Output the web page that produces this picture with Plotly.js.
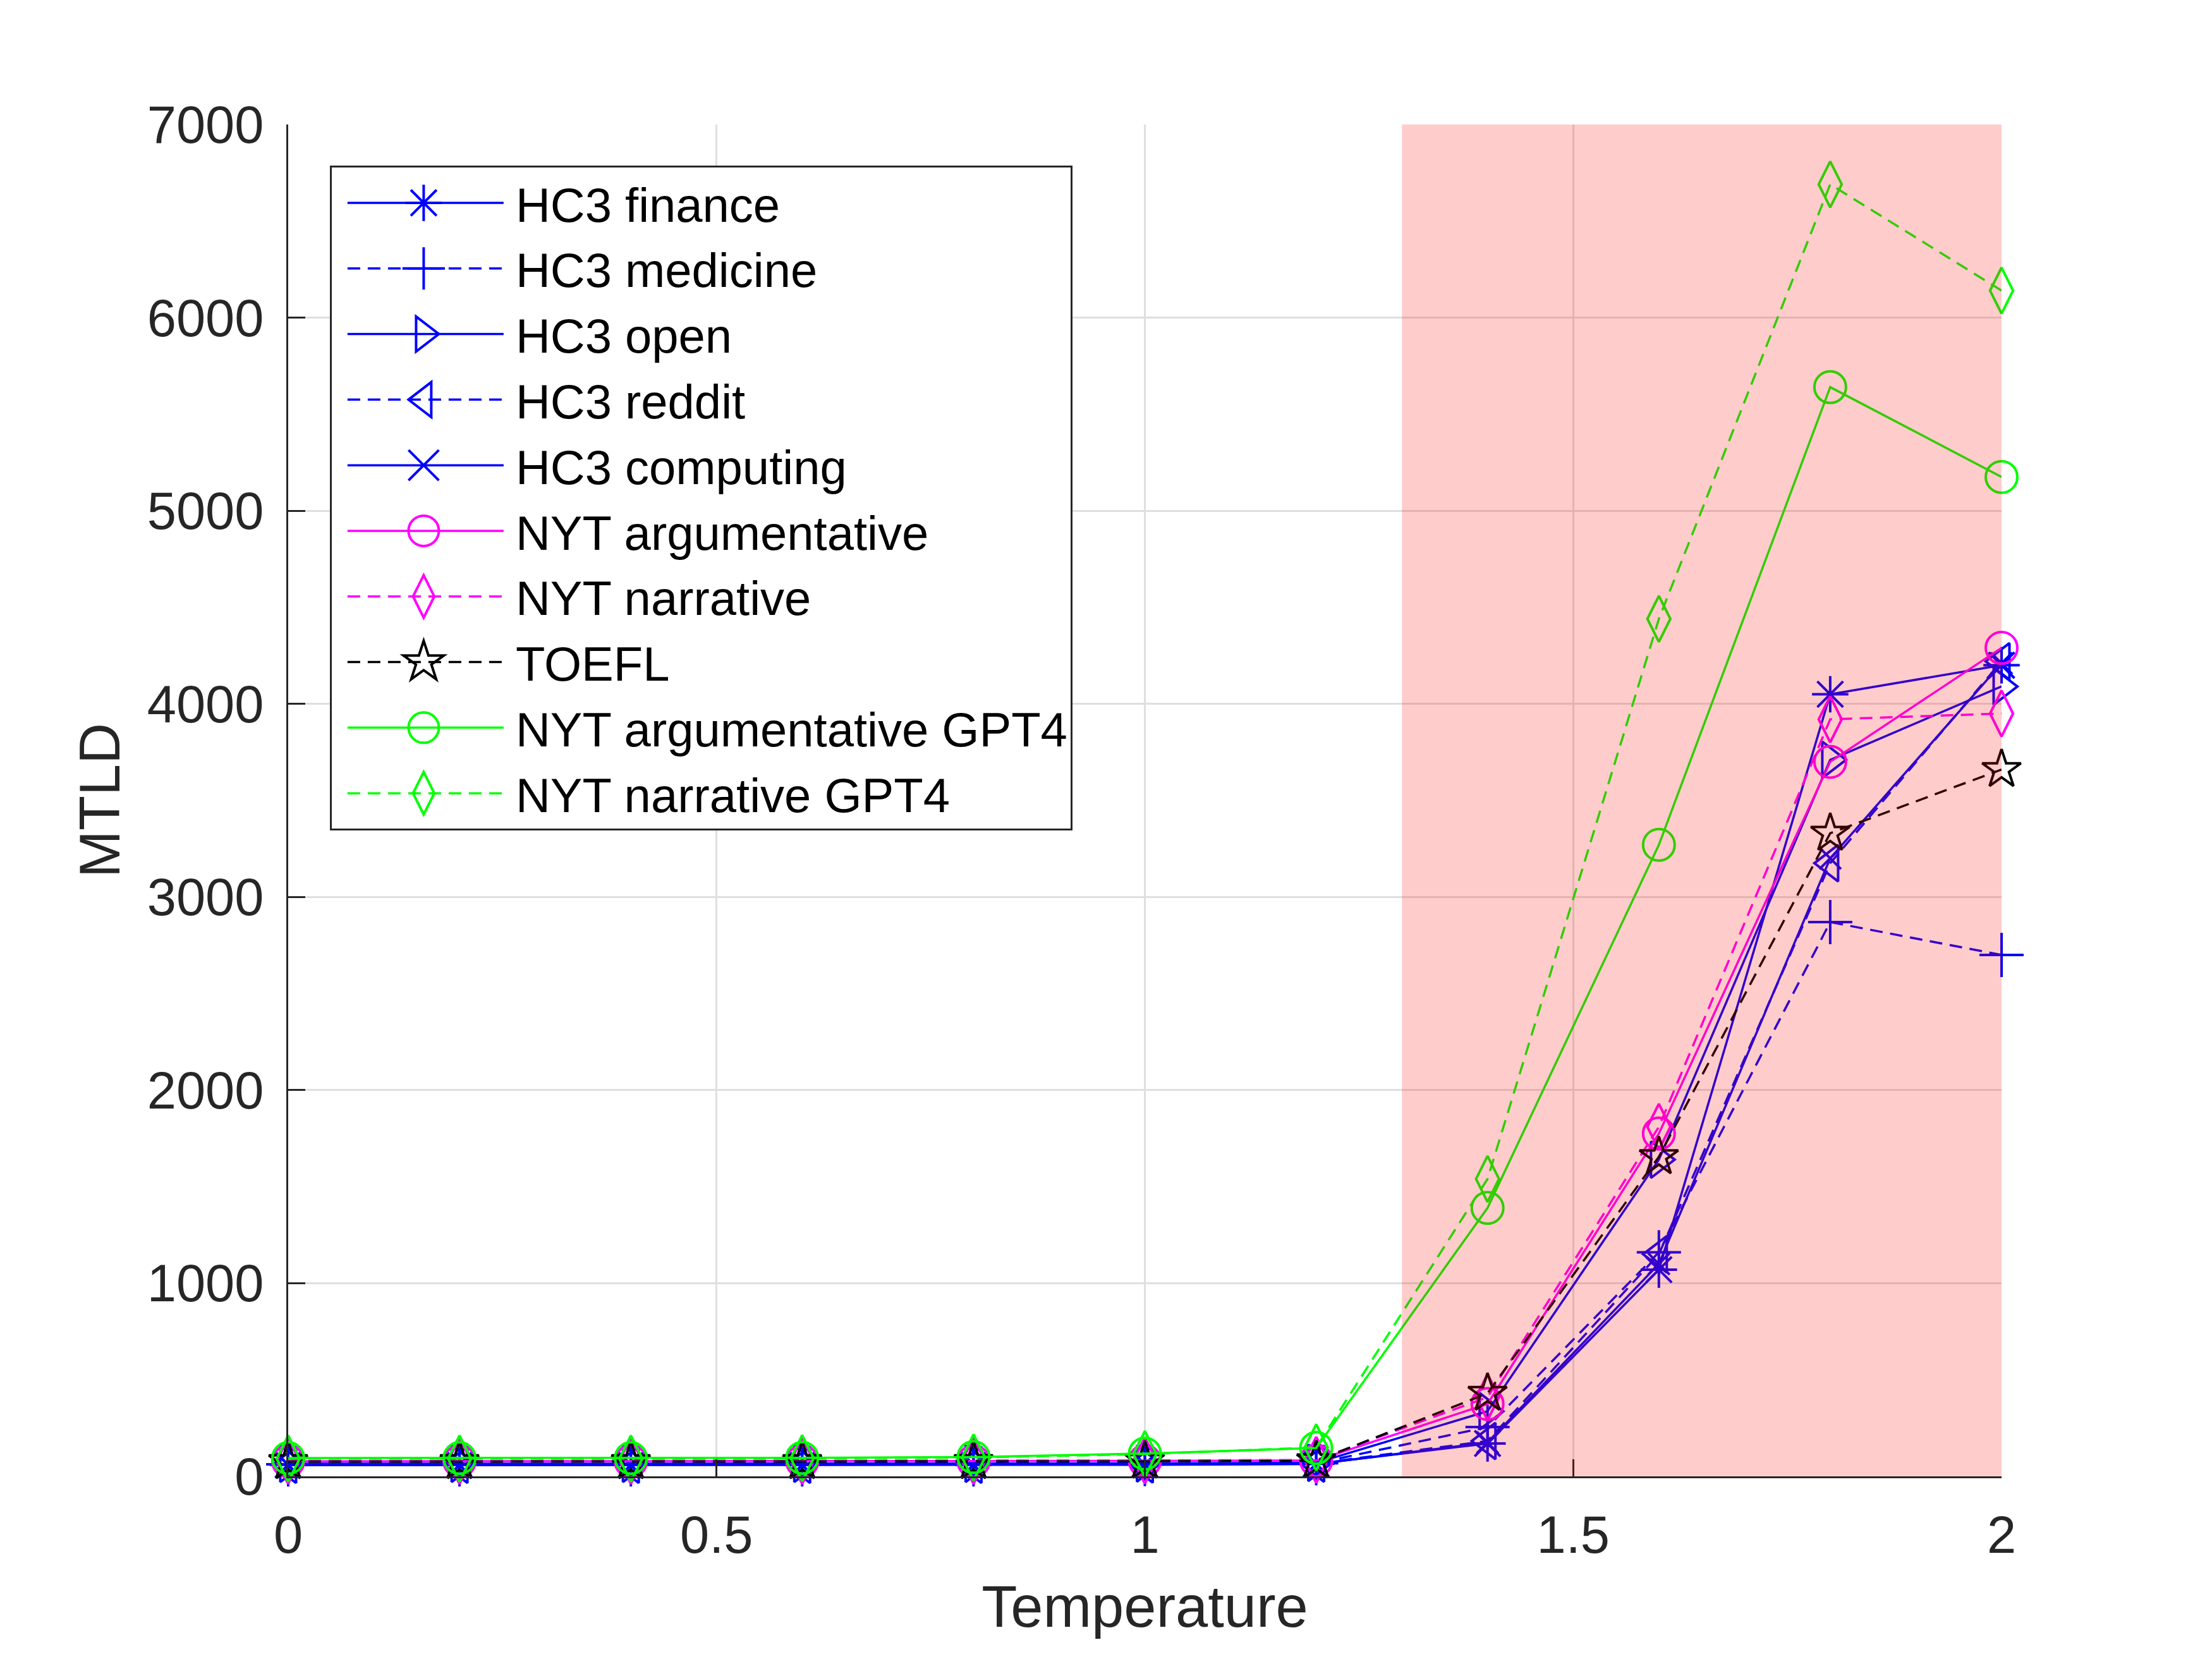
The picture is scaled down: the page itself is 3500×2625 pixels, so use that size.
<!DOCTYPE html>
<html>
<head>
<meta charset="utf-8">
<script src="https://cdn.plot.ly/plotly-3.0.1.min.js"></script>
<style>
  body { margin: 0; background: #ffffff; }
  #chart { width: 3500px; height: 2625px; }
</style>
</head>
<body>
<div id="chart"></div>
<script>
// temperature steps on the x axis
const temperature = [0, 0.2, 0.4, 0.6, 0.8, 1.0, 1.2, 1.4, 1.6, 1.8, 2.0];

// MTLD per dataset
const hc3Finance   = [60, 60, 60, 60, 60, 62, 65, 170, 1070, 4050, 4200];
const hc3Medicine  = [62, 62, 62, 62, 62, 64, 68, 255, 1160, 2870, 2700];
const hc3Open      = [65, 65, 65, 65, 65, 67, 70, 337, 1640, 3710, 4090];
const hc3Reddit    = [60, 60, 60, 60, 60, 62, 66, 183, 1150, 3175, 4220];
const hc3Computing = [58, 58, 58, 58, 58, 60, 64, 175, 1100, 3200, 4210];
const nytArg       = [78, 78, 78, 78, 78, 80, 82, 375, 1775, 3700, 4290];
const nytNarr      = [80, 80, 80, 80, 80, 82, 85, 410, 1810, 3920, 3950];
const toefl        = [76, 76, 76, 76, 76, 78, 80, 430, 1655, 3330, 3660];
const nytArgGpt4   = [95, 95, 95, 96, 100, 118, 147, 1390, 3270, 5640, 5175];
const nytNarrGpt4  = [92, 92, 92, 94, 98, 115, 150, 1540, 4440, 6690, 6140];

// shaded high-temperature band
const bandStart = 1.3;
const bandEnd = 2.0;

const xTicks = [0, 0.5, 1, 1.5, 2];
const xTickText = ['0', '0.5', '1', '1.5', '2'];
const yTicks = [0, 1000, 2000, 3000, 4000, 5000, 6000, 7000];

const BLUE = '#0000ff';
const MAGENTA = '#ff00ff';
const GREEN = '#00ff00';
const BLACK = '#000000';
const DASHED = '20px,12px';
const FONT = 'Liberation Sans, Arial, Helvetica, sans-serif';

var traces = [];

function addTrace(y, legend, color, dash, symbol, size) {
  traces.push({
    x: temperature,
    y: y,
    type: 'scatter',
    mode: 'lines+markers',
    name: legend,
    legendgroup: legend,
    cliponaxis: false,
    line: {color: color, width: 3.5, dash: dash},
    marker: {
      symbol: symbol,
      size: size,
      color: color,
      line: {color: color, width: 4}
    }
  });
}

addTrace(hc3Finance,   'HC3 finance',   BLUE, 'solid', 'asterisk-open', 48);
addTrace(hc3Medicine,  'HC3 medicine',  BLUE, DASHED,  'cross-thin-open', 50);
addTrace(hc3Open,      'HC3 open',      BLUE, 'solid', 'triangle-right-open', 50);
addTrace(hc3Reddit,    'HC3 reddit',    BLUE, DASHED,  'triangle-left-open', 50);
addTrace(hc3Computing, 'HC3 computing', BLUE, 'solid', 'x-thin-open', 34);
addTrace(nytArg,       'NYT argumentative', MAGENTA, 'solid', 'circle-open', 50);
addTrace(nytNarr,      'NYT narrative',     MAGENTA, DASHED,  'diamond-tall-open', 52);
addTrace(toefl,        'TOEFL',             BLACK,   DASHED,  'star-open', 46);
addTrace(nytArgGpt4,   'NYT argumentative GPT4', GREEN, 'solid', 'circle-open', 50);
addTrace(nytNarrGpt4,  'NYT narrative GPT4',     GREEN, DASHED,  'diamond-tall-open', 52);

var layout = {
  width: 3500,
  height: 2625,
  margin: {l: 456, r: 333, t: 197, b: 289, pad: 0},
  paper_bgcolor: '#ffffff',
  plot_bgcolor: '#ffffff',
  font: {family: FONT, size: 83, color: '#262626'},
  showlegend: true,
  legend: {
    x: 0.0243,
    y: 0.9696,
    xanchor: 'left',
    yanchor: 'top',
    bgcolor: '#ffffff',
    bordercolor: '#262626',
    borderwidth: 3,
    itemwidth: 281,
    traceorder: 'grouped',
    tracegroupgap: 2,
    font: {family: FONT, size: 76, color: '#000000'}
  },
  xaxis: {
    range: [0, 2],
    tickvals: xTicks,
    ticktext: xTickText,
    ticks: 'inside',
    ticklen: 27,
    tickwidth: 3,
    tickcolor: '#262626',
    ticklabelstandoff: 18,
    showline: true,
    linecolor: '#262626',
    linewidth: 3,
    showgrid: true,
    gridcolor: '#dfdfdf',
    gridwidth: 3,
    zeroline: false,
    automargin: true,
    title: {text: 'Temperature', font: {size: 92, color: '#262626'}, standoff: 36}
  },
  yaxis: {
    range: [0, 7000],
    tickvals: yTicks,
    ticks: 'inside',
    ticklen: 27,
    tickwidth: 3,
    tickcolor: '#262626',
    ticklabelstandoff: 19,
    showline: true,
    linecolor: '#262626',
    linewidth: 3,
    showgrid: true,
    gridcolor: '#dfdfdf',
    gridwidth: 3,
    zeroline: false,
    automargin: true,
    title: {text: 'MTLD', font: {size: 90, color: '#262626'}, standoff: 14}
  },
  shapes: [{
    type: 'rect',
    xref: 'x',
    yref: 'y',
    x0: bandStart,
    x1: bandEnd,
    y0: 0,
    y1: 7000,
    fillcolor: 'rgba(255,0,0,0.2)',
    line: {width: 0},
    layer: 'above'
  }]
};

var config = {staticPlot: true, displayModeBar: false};

// plotly caps legend symbols at 16px and runs the sample line into the text,
// so scale the symbols up and pull the line ends in a bit
function tidyLegend() {
  document.querySelectorAll('#chart .legend .legendpoints path').forEach(function(p) {
    var t = p.getAttribute('transform') || '';
    if (t.indexOf('scale') < 0) {
      p.setAttribute('transform', t + ' scale(3)');
    }
    p.setAttribute('vector-effect', 'non-scaling-stroke');
    p.style.strokeWidth = '4px';
    p.style.fillOpacity = '0';
  });
  document.querySelectorAll('#chart .legend .legendlines path').forEach(function(p) {
    p.setAttribute('d', 'M25,0h247');
  });
}

Plotly.newPlot('chart', traces, layout, config).then(tidyLegend);
</script>
</body>
</html>
